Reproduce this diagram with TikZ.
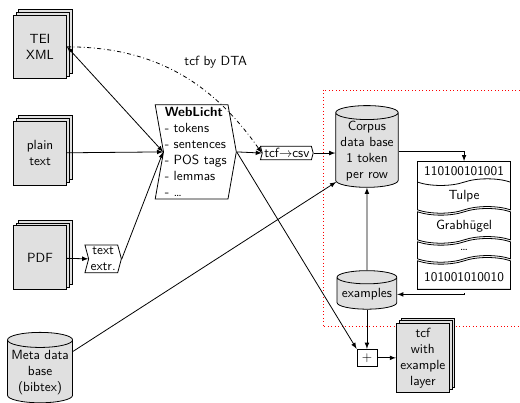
\documentclass[tikz,border=0pt]{standalone}
\usetikzlibrary{arrows,positioning,shapes.geometric,shapes.symbols,shadows}

\begin{document}
\begin{tikzpicture}[>=latex, semithick,
	every node/.style={font=\sffamily},
	doc/.style={draw, fill=black!12, align=center, minimum width=40pt, minimum height=48pt, inner sep=1pt,
		double copy shadow={shadow xshift=2pt, shadow yshift=2pt, fill=black!12, draw=black}},
	db/.style={draw, fill=black!12, cylinder, shape border rotate=90, aspect=0.25, align=center, inner sep=1pt},
	tool/.style={draw, fill=white, signal, signal from=west, signal to=east, signal pointer angle=150, align=center, inner sep=1.5pt},
	row/.style={draw, fill=white, tape, minimum width=70pt, inner xsep=2pt, inner ysep=3.5pt}]

	\useasboundingbox (0, 0) rectangle (13.76, 10.66);
	\clip (0, 0) rectangle (13.76, 10.66);

	\draw[red, dotted] (8.55, 8.28) rectangle (14.2, 2.01); % area of the corpus

	% inputs
	\node[doc] (tei) at (1.06, 9.42) {TEI\\XML};
	\node[doc] (plain) at (1.06, 6.61) {plain\\text};
	\node[doc] (pdf) at (1.06, 3.84) {PDF};
	\node[db, minimum width=49pt, minimum height=53pt] (meta) at (1.06, 0.80) {Meta data\\base\\(bibtex)};

	% tools
	\node[tool] (textextr) at (2.73, 3.81) {text\\extr.};
	\node[tool, align=left, signal pointer angle=160, inner xsep=1pt, inner ysep=2pt] (weblicht) at (5.18, 6.64)
		{\textbf{WebLicht}\\- tokens\\- sentences\\- POS tags\\- lemmas\\- \dots};
	\node[tool] (tcfcsv) at (7.59, 6.61) {tcf$\rightarrow$csv};
	\node (dta) at (5.71, 9.02) {tcf by DTA};

	% data bases
	\node[db, minimum width=47pt, minimum height=52pt] (corpus) at (9.71, 6.66) {Corpus\\data base\\1 token\\per row};
	\node[db, minimum width=45pt, minimum height=29pt] (examples) at (9.71, 2.87) {examples};

	% token rows
	\node[row, tape bend top=none] (row1) at (12.28, 6.14) {110100101001};
	\node[row, below=1pt of row1] (row2) {Tulpe};
	\node[row, below=1pt of row2] (row3) {Grabhügel};
	\node[row, below=1pt of row3] (row4) {\dots};
	\node[row, tape bend bottom=none, below=1pt of row4] (row5) {101001010010};

	% output
	\node[draw, fill=white, minimum width=15pt, minimum height=13pt, inner sep=0pt] (plus) at (9.71, 1.19) {$+$};
	\node[doc, minimum height=52pt] (tcflayer) at (11.19, 1.19) {tcf\\with\\example\\layer};

	\draw[<->] (tei.east) -- (weblicht.west);
	\draw[->] (plain) -- (weblicht.west);
	\draw[->] (pdf) -- (textextr.west);
	\draw[->] (textextr.east) -- (weblicht.west);
	\draw[->, dash dot] (tei.east) to[out=0, in=125] (tcfcsv.west);
	\draw[->] (weblicht.east) -- (tcfcsv.west);
	\draw[->] (tcfcsv.east) -- (tcfcsv.east -| corpus.west);
	\draw[->] (meta) -- (corpus.south west);
	\draw[->] (corpus.east) -| (row1.north);
	\draw[->] (row5.south) |- (examples.east);
	\draw[->] (examples) -- (corpus);
	\draw[->] (examples) -- (plus);
	\draw[->] (weblicht.east) -- (plus.north west);
	\draw[->] (plus) -- (tcflayer);
\end{tikzpicture}
\end{document}
